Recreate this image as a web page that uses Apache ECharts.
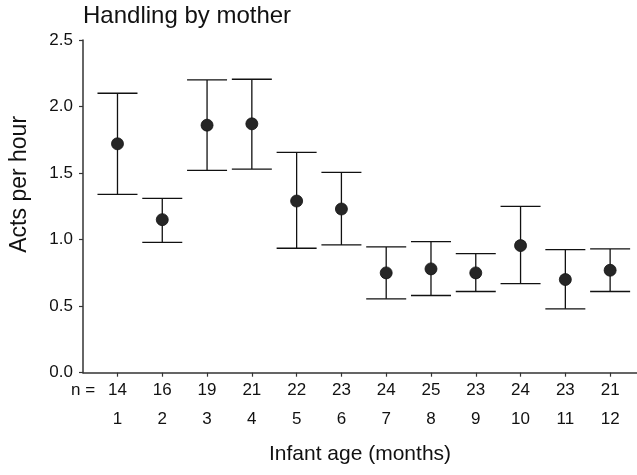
<!DOCTYPE html>
<html>
<head>
<meta charset="utf-8">
<script src="https://cdn.jsdelivr.net/npm/echarts@6/dist/echarts.min.js"></script>
<style>html,body{margin:0;padding:0;background:#fff}#c{width:637px;height:475px}</style>
</head>
<body>
<div id="c"></div>
<script>
var months = [1, 2, 3, 4, 5, 6, 7, 8, 9, 10, 11, 12];
var nCounts = [14, 16, 19, 21, 22, 23, 24, 25, 23, 24, 23, 21];
var means = [1.72, 1.15, 1.86, 1.87, 1.29, 1.23, 0.75, 0.78, 0.75, 0.955, 0.70, 0.77];
var upper = [2.10, 1.31, 2.20, 2.205, 1.655, 1.505, 0.945, 0.985, 0.895, 1.25, 0.925, 0.93];
var lower = [1.34, 0.98, 1.52, 1.53, 0.935, 0.96, 0.555, 0.58, 0.61, 0.67, 0.48, 0.61];
var yTicks = [0, 0.5, 1.0, 1.5, 2.0, 2.5];

var FONT = '"Liberation Sans", Arial, Helvetica, sans-serif';
var chart = echarts.init(document.getElementById('c'), null, {renderer: 'canvas'});

var xMin = 0.23, xMax = 12.6;
var labelVals = [xMin].concat(months);

var option = {
  animation: false,
  backgroundColor: '#fff',
  title: {
    text: 'Handling by mother',
    left: 83, top: 4, padding: 0,
    textStyle: {fontFamily: FONT, fontSize: 24, fontWeight: 'normal', color: '#111'}
  },
  grid: {left: 82, right: 0, top: 40, bottom: 102.3, containLabel: false},
  xAxis: {
    type: 'value', min: xMin, max: xMax,
    name: 'Infant age (months)', nameLocation: 'middle', nameGap: 71,
    nameTextStyle: {fontFamily: FONT, fontSize: 21, color: '#111'},
    axisLine: {show: true, onZero: false, lineStyle: {color: '#333', width: 1.5}},
    axisTick: {show: true, customValues: months, length: 4, lineStyle: {color: '#333', width: 1.2}},
    axisLabel: {
      customValues: labelVals, margin: 3, showMinLabel: true, showMaxLabel: true,
      formatter: function (v) {
        if (Math.abs(v - xMin) < 1e-6) return '{a|n =}';
        var i = months.indexOf(Math.round(v));
        return '{a|' + nCounts[i] + '}\n{a|' + months[i] + '}';
      },
      rich: {a: {fontFamily: FONT, fontSize: 17, lineHeight: 29, color: '#111'}}
    },
    splitLine: {show: false}
  },
  yAxis: {
    type: 'value', min: 0, max: 2.5, interval: 0.5,
    name: 'Acts per hour', nameLocation: 'middle', nameGap: 52,
    nameTextStyle: {fontFamily: FONT, fontSize: 23, color: '#111', padding: [0, 0, 0, 44]},
    axisLine: {show: true, lineStyle: {color: '#333', width: 1.5}},
    axisTick: {show: true, length: 4, lineStyle: {color: '#333', width: 1.2}},
    axisLabel: {
      margin: 10, fontFamily: FONT, fontSize: 17, color: '#111',
      formatter: function (v) { return v.toFixed(1); }
    },
    splitLine: {show: false}
  },
  series: [
    {
      type: 'custom',
      data: months.map(function (m, i) { return [m, lower[i], upper[i]]; }),
      renderItem: function (params, api) {
        var x = api.value(0);
        var lo = api.coord([x, api.value(1)]);
        var hi = api.coord([x, api.value(2)]);
        var hw = 20;
        var st = {stroke: '#111', lineWidth: 1.3};
        return {
          type: 'group',
          children: [
            {type: 'line', shape: {x1: lo[0], y1: lo[1], x2: hi[0], y2: hi[1]}, style: st},
            {type: 'line', shape: {x1: hi[0] - hw, y1: hi[1], x2: hi[0] + hw, y2: hi[1]}, style: st},
            {type: 'line', shape: {x1: lo[0] - hw, y1: lo[1], x2: lo[0] + hw, y2: lo[1]}, style: st}
          ]
        };
      },
      z: 2
    },
    {
      type: 'scatter',
      data: months.map(function (m, i) { return [m, means[i]]; }),
      symbol: 'circle', symbolSize: 12,
      itemStyle: {color: '#262626', borderColor: '#111', borderWidth: 0.8, opacity: 1},
      z: 3
    }
  ]
};
chart.setOption(option);
</script>
</body>
</html>
